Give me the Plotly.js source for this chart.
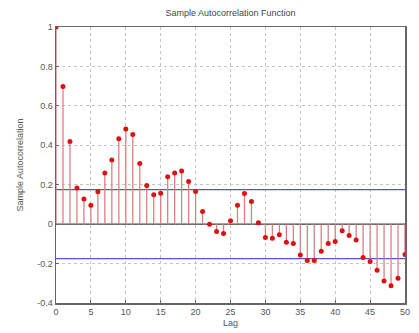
<!DOCTYPE html>
<html><head><meta charset="utf-8">
<script src="https://cdn.plot.ly/plotly-3.0.1.min.js"></script>
<style>body{margin:0;background:#fff}#c{width:419px;height:333px}</style>
</head><body><div id="c"></div>
<script>
const lags = [];
for (let i = 0; i <= 50; i++) lags.push(i);
const acf = [1.0, 0.698, 0.419, 0.183, 0.127, 0.096, 0.164, 0.259, 0.325, 0.433,
  0.482, 0.455, 0.308, 0.196, 0.149, 0.157, 0.240, 0.259, 0.270, 0.216,
  0.165, 0.064, 0.0, -0.037, -0.048, 0.017, 0.096, 0.155, 0.115, 0.007,
  -0.068, -0.071, -0.054, -0.092, -0.098, -0.157, -0.185, -0.185, -0.137, -0.098,
  -0.088, -0.034, -0.058, -0.080, -0.169, -0.190, -0.234, -0.288, -0.312, -0.274,
  -0.154];
const bound = 0.175;
const xTicks = [0,5,10,15,20,25,30,35,40,45,50];
const yTicks = [-0.4,-0.2,0,0.2,0.4,0.6,0.8,1];
const yTickText = ['-0.4','-0.2','0','0.2','0.4','0.6','0.8','1'];

const sx = [], sy = [];
lags.forEach((l, i) => { sx.push(l, l, null); sy.push(0, acf[i], null); });

const traces = [
  {x: [0, 50], y: [0, 0], mode: 'lines', line: {color: '#444', width: 1.2}, hoverinfo: 'skip'},
  {x: [0, 50], y: [bound, bound], mode: 'lines', line: {color: '#5555cc', width: 1.3}, hoverinfo: 'skip'},
  {x: [0, 50], y: [-bound, -bound], mode: 'lines', line: {color: '#5555cc', width: 1.3}, hoverinfo: 'skip'},
  {x: sx, y: sy, mode: 'lines', line: {color: '#d98080', width: 1.3}, hoverinfo: 'skip'},
  {x: lags, y: acf, mode: 'markers', marker: {color: '#e01010', size: 5}}
];

const axFont = {family: 'Liberation Sans, Arial, sans-serif', size: 9, color: '#555'};
const layout = {
  width: 419, height: 333,
  margin: {l: 56, r: 14, t: 27, b: 30},
  paper_bgcolor: '#fff', plot_bgcolor: '#fff',
  showlegend: false,
  title: {text: 'Sample Autocorrelation Function', font: {family: 'Liberation Sans, Arial, sans-serif', size: 9, color: '#444'}, x: 0.55, xanchor: 'center', y: 0.97, yanchor: 'top'},
  xaxis: {
    range: [0, 50], tickvals: xTicks, ticktext: xTicks.map(String),
    showgrid: true, gridcolor: '#c4c4c4', griddash: 'dot', gridwidth: 1,
    zeroline: false, showline: true, linecolor: '#666', linewidth: 1.5, mirror: true,
    ticks: 'inside', ticklen: 3, tickcolor: '#666',
    tickfont: axFont,
    title: {text: 'Lag', font: axFont, standoff: 3}
  },
  yaxis: {
    range: [-0.4, 1], tickvals: yTicks, ticktext: yTickText,
    showgrid: true, gridcolor: '#c4c4c4', griddash: 'dot', gridwidth: 1,
    zeroline: false, showline: true, linecolor: '#666', linewidth: 1.5, mirror: true,
    ticks: 'inside', ticklen: 3, tickcolor: '#666',
    tickfont: axFont,
    title: {text: 'Sample Autocorrelation', font: axFont, standoff: 12}
  }
};
Plotly.newPlot('c', traces, layout, {displayModeBar: false, staticPlot: true});
</script>
</body></html>
